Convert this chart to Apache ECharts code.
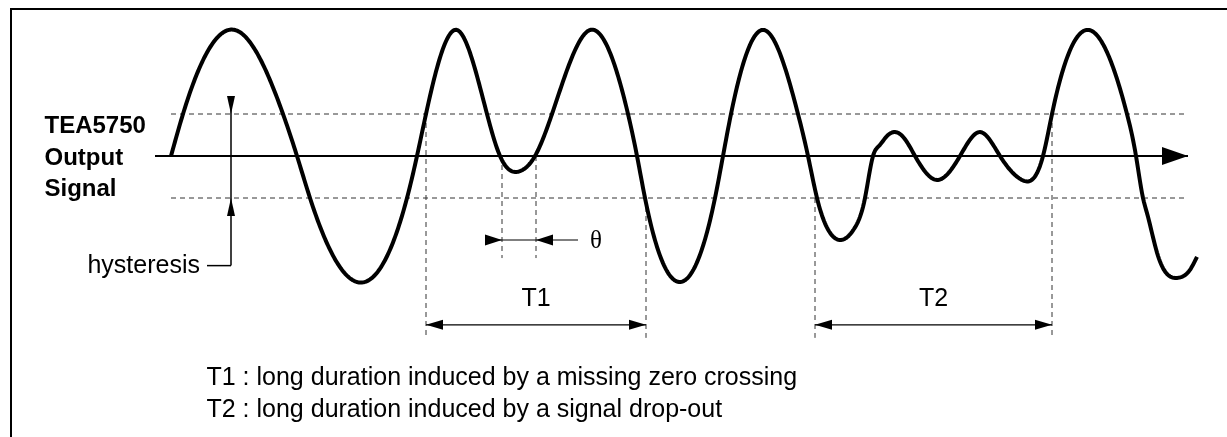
<!DOCTYPE html>
<html>
<head>
<meta charset="utf-8">
<script src="https://cdn.jsdelivr.net/npm/echarts@6/dist/echarts.min.js"></script>
<style>
  html, body { margin: 0; padding: 0; background: #fff; }
  #chart { width: 1227px; height: 437px; }
</style>
</head>
<body>
<div id="chart"></div>
<script>
// ================= DATA =================
// time in arbitrary units, signal level in units of the hysteresis threshold
const signalTime  = [0.0, 1.2, 6.4, 11.2, 12.6, 13.9, 18.6, 23.6, 24.6, 25.5,
                     28.6, 31.6, 32.9, 34.9, 36.4, 38.1, 41.9, 45.7, 46.6, 47.4,
                     50.9, 54.4, 55.2, 56.0, 59.3, 62.7, 63.7, 64.6, 65.7, 67.0,
                     68.4, 69.4, 70.2, 70.8, 71.5, 72.4, 73.3, 74.4, 76.6, 78.9, 80.9,
                     82.9, 85.1, 87.2, 88.1, 91.8, 95.6, 96.5, 97.2, 97.6, 98.6,
                     100.7, 101.9, 102.6];
const signalLevel = [0, 1, 3, 1, 0, -1, -3, -1, 0, 1,
                     3, 1, 0, -0.36, 0, 1, 3, 1, 0, -1,
                     -3, -1, 0, 1, 3, 1, 0, -1, -1.75, -2,
                     -1.7, -1, 0, 0.24, 0.45, 0.57, 0.43, 0, -0.57, 0, 0.57,
                     0, -0.57, 0, 1, 3, 1, 0, -1, -1.36, -2.3,
                     -2.9, -2.71, -2.4];
const thresholdLevels    = [1, -1];          // hysteresis window
const zeroLevel          = 0;
const axisTimeRange      = [-1.6, 101.7];
const thresholdTimeRange = [0, 101.7];
const durationNames      = ['T1', 'T2'];
const durationStart      = [25.5, 64.4];
const durationEnd        = [47.5, 88.1];
const durationStartLevel = [1, -1];
const durationEndLevel   = [-1, 1];
const thetaTimes         = [33.1, 36.5];
const thetaLabel         = 'θ';
const hysteresisTime     = 6.0;
const hysteresisLabel    = 'hysteresis';
const signalTitle        = ['TEA5750', 'Output', 'Signal'];
const notes = [
  'T1 : long duration induced by a missing zero crossing',
  'T2 : long duration induced by a signal drop-out'
];

// ================= LAYOUT =================
const W = 1227, H = 437;
const X0 = 171, XS = 10;   // pixel of t=0, pixels per time unit
const Y0 = 156, YS = 42;   // pixel of level 0, pixels per level unit
const dimLevel = -4.02, markerBottomLevel = -4.33;
const thetaArrowLevel = -2.0, thetaBottomLevel = -2.43;
const hystLeaderLevel = -2.61;
const FONT = '"Liberation Sans", Arial, Helvetica, sans-serif';
const dotted = { stroke: '#333', lineWidth: 1, lineDash: [5, 4] };
const thin = { stroke: '#000', lineWidth: 1.2 };

function seg(p1, p2, style) {
  return { type: 'line', shape: { x1: p1[0], y1: p1[1], x2: p2[0], y2: p2[1] }, style: Object.assign({ fill: null }, style) };
}
function head(tip, dx, dy, len, half) {
  const bx = tip[0] - dx * len, by = tip[1] - dy * len;
  return { type: 'polygon', shape: { points: [tip, [bx - dy * half, by + dx * half], [bx + dy * half, by - dx * half]] },
           style: { fill: '#000' } };
}
// natural cubic spline through screen points (x increasing) -> dense polyline
function splinePoints(pts) {
  const n = pts.length, x = pts.map(p => p[0]), y = pts.map(p => p[1]);
  const h = [], M = new Array(n).fill(0);
  for (let i = 0; i < n - 1; i++) h.push(x[i + 1] - x[i]);
  const a = [], b = [], c = [], d = [];
  for (let i = 1; i < n - 1; i++) {
    a.push(h[i - 1]); b.push(2 * (h[i - 1] + h[i])); c.push(h[i]);
    d.push(6 * ((y[i + 1] - y[i]) / h[i] - (y[i] - y[i - 1]) / h[i - 1]));
  }
  const m = b.length;
  for (let i = 1; i < m; i++) {
    const w = a[i] / b[i - 1];
    b[i] -= w * c[i - 1]; d[i] -= w * d[i - 1];
  }
  const sol = new Array(m);
  for (let i = m - 1; i >= 0; i--) sol[i] = (d[i] - (i < m - 1 ? c[i] * sol[i + 1] : 0)) / b[i];
  for (let i = 0; i < m; i++) M[i + 1] = sol[i];
  const out = [];
  for (let i = 0; i < n - 1; i++) {
    const hi = h[i];
    const bi = (y[i + 1] - y[i]) / hi - hi * (2 * M[i] + M[i + 1]) / 6;
    const steps = Math.max(2, Math.ceil(hi));
    for (let k = 0; k < steps; k++) {
      const t = hi * k / steps;
      out.push([x[i] + t, y[i] + bi * t + M[i] / 2 * t * t + (M[i + 1] - M[i]) / (6 * hi) * t * t * t]);
    }
  }
  out.push(pts[n - 1]);
  return out;
}

const chart = echarts.init(document.getElementById('chart'), null, { renderer: 'canvas' });

const option = {
  animation: false,
  backgroundColor: '#fff',
  grid: { left: 0, right: 0, top: 0, bottom: 0, containLabel: false },
  xAxis: { type: 'value', min: -X0 / XS, max: (W - X0) / XS, show: false },
  yAxis: { type: 'value', min: -(H - Y0) / YS, max: Y0 / YS, show: false },
  graphic: [
    { type: 'polyline', silent: true, shape: { points: [[11, H], [11, 9], [W, 9]] },
      style: { stroke: '#000', lineWidth: 2, fill: null } },
    { type: 'text', silent: true, x: 44.5, y: 158,
      style: { text: signalTitle.join('\n'), fontSize: 24, fontWeight: 'bold', fontFamily: FONT,
               fill: '#000', align: 'left', verticalAlign: 'middle', lineHeight: 31.5 } },
    ...notes.map((n, i) => ({
      type: 'text', silent: true, x: 206.5, y: 378 + i * 32.5,
      style: { text: n, fontSize: 25, fontFamily: FONT, fill: '#000', align: 'left', verticalAlign: 'middle' }
    }))
  ],
  series: [
    ...thresholdLevels.map((lv, i) => ({
      type: 'line', name: i === 0 ? 'upper threshold' : 'lower threshold', silent: true, z: 1,
      data: thresholdTimeRange.map(t => [t, lv]), symbol: 'none',
      lineStyle: { color: '#333', width: 1, type: [5, 4] }
    })),
    {
      type: 'line', name: 'time axis', silent: true, z: 2, symbol: 'none',
      data: axisTimeRange.map(t => [t, zeroLevel]),
      lineStyle: { color: '#000', width: 2 }
    },
    {
      type: 'custom', name: 'axis arrow', silent: true, z: 3, clip: false,
      data: [[axisTimeRange[1], zeroLevel]],
      renderItem: (params, api) => head(api.coord([api.value(0), api.value(1)]), 1, 0, 26, 9)
    },
    {
      type: 'custom', name: 'durations', silent: true, z: 3, clip: false,
      data: durationNames.map((n, i) => [durationStart[i], durationEnd[i], durationStartLevel[i], durationEndLevel[i]]),
      encode: { x: [0, 1], y: [2, 3] },
      renderItem: (params, api) => {
        const i = params.dataIndex;
        const ts = api.value(0), te = api.value(1);
        const sTop = api.coord([ts, api.value(2)]), sBot = api.coord([ts, markerBottomLevel]);
        const eTop = api.coord([te, api.value(3)]), eBot = api.coord([te, markerBottomLevel]);
        const a = api.coord([ts, dimLevel]), b = api.coord([te, dimLevel]);
        return { type: 'group', children: [
          seg(sTop, sBot, dotted), seg(eTop, eBot, dotted),
          seg(a, b, thin),
          head(a, -1, 0, 17, 5), head(b, 1, 0, 17, 5),
          { type: 'text', x: (a[0] + b[0]) / 2, y: a[1] - 26,
            style: { text: durationNames[i], fontSize: 25, fontFamily: FONT, fill: '#000', align: 'center', verticalAlign: 'middle' } }
        ] };
      }
    },
    {
      type: 'custom', name: 'theta', silent: true, z: 3, clip: false,
      data: [[thetaTimes[0], thetaTimes[1]]],
      encode: { x: [0, 1] },
      renderItem: (params, api) => {
        const t1 = api.value(0), t2 = api.value(1);
        const l = api.coord([t1, thetaArrowLevel]), r = api.coord([t2, thetaArrowLevel]);
        return { type: 'group', children: [
          seg(api.coord([t1, zeroLevel]), api.coord([t1, thetaBottomLevel]), dotted),
          seg(api.coord([t2, zeroLevel]), api.coord([t2, thetaBottomLevel]), dotted),
          seg([l[0] - 17, l[1]], [r[0] + 42, r[1]], thin),
          head(l, 1, 0, 17, 5.5), head(r, -1, 0, 17, 5.5),
          { type: 'text', x: r[0] + 60, y: r[1] + 1,
            style: { text: thetaLabel, fontSize: 25, fontFamily: '"Liberation Serif", "Times New Roman", serif',
                     fill: '#000', align: 'center', verticalAlign: 'middle' } }
        ] };
      }
    },
    {
      type: 'custom', name: 'hysteresis', silent: true, z: 3, clip: false,
      data: [[hysteresisTime, thresholdLevels[0], thresholdLevels[1]]],
      encode: { x: 0, y: [1, 2] },
      renderItem: (params, api) => {
        const t = api.value(0);
        const up = api.coord([t, api.value(1)]), lo = api.coord([t, api.value(2)]);
        const bot = api.coord([t, hystLeaderLevel]);
        const style = { stroke: '#000', lineWidth: 1.5 };
        return { type: 'group', children: [
          seg([up[0], up[1] - 18], bot, style),
          seg(bot, [bot[0] - 24, bot[1]], style),
          head(up, 0, 1, 18, 4), head(lo, 0, -1, 18, 4),
          { type: 'text', x: bot[0] - 31, y: bot[1],
            style: { text: hysteresisLabel, fontSize: 25, fontFamily: FONT, fill: '#000', align: 'right', verticalAlign: 'middle' } }
        ] };
      }
    },
    {
      type: 'custom', name: 'TEA5750 output signal', silent: true, z: 5, clip: false,
      data: signalTime.map((t, i) => [t, signalLevel[i]]),
      renderItem: (params, api) => {
        if (params.dataIndex !== 0) return null;
        const pts = signalTime.map((t, i) => api.coord([t, signalLevel[i]]));
        return { type: 'polyline', shape: { points: splinePoints(pts) },
                 style: { stroke: '#000', lineWidth: 4, fill: null, lineJoin: 'round', lineCap: 'butt' } };
      }
    }
  ]
};
chart.setOption(option);
</script>
</body>
</html>
